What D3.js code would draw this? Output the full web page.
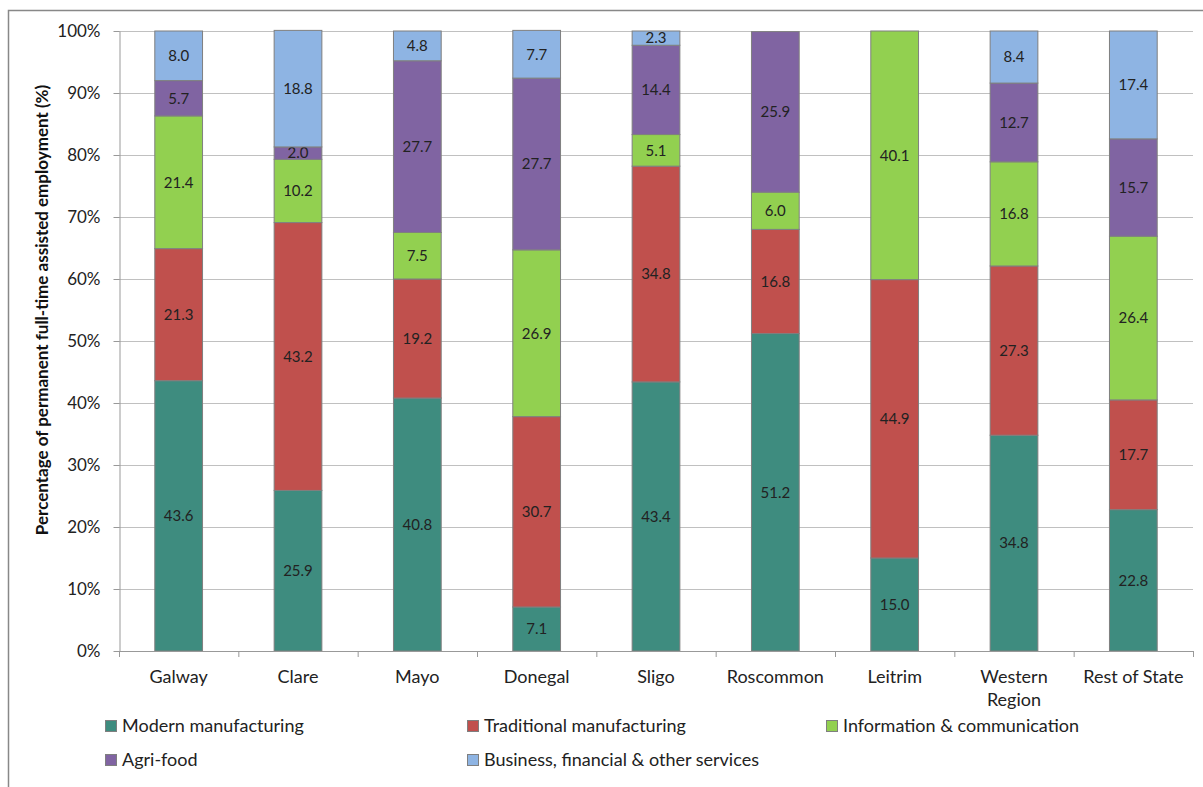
<!DOCTYPE html>
<html><head><meta charset="utf-8">
<script src="https://cdn.jsdelivr.net/npm/d3@7"></script>
<style>
html,body{margin:0;padding:0;background:#fff;}
svg{display:block;font-family:Lato,"Open Sans",sans-serif;}
</style></head>
<body>
<svg id="chart" width="1203" height="787"></svg>
<script>
const categories = ["Galway","Clare","Mayo","Donegal","Sligo","Roscommon","Leitrim","Western Region","Rest of State"];
const seriesNames = ["Modern manufacturing","Traditional manufacturing","Information & communication","Agri-food","Business, financial & other services"];
const modernManufacturing = [43.6,25.9,40.8,7.1,43.4,51.2,15.0,34.8,22.8];
const traditionalManufacturing = [21.3,43.2,19.2,30.7,34.8,16.8,44.9,27.3,17.7];
const infoComm = [21.4,10.2,7.5,26.9,5.1,6.0,40.1,16.8,26.4];
const agriFood = [5.7,2.0,27.7,27.7,14.4,25.9,0,12.7,15.7];
const businessServices = [8.0,18.8,4.8,7.7,2.3,0,0,8.4,17.4];
const yTicks = [0,10,20,30,40,50,60,70,80,90,100];
const colors = ["#3E8C7F","#C0504D","#92D050","#8064A2","#8EB4E3"];

const seriesValues = [modernManufacturing,traditionalManufacturing,infoComm,agriFood,businessServices];
const table = categories.map((c,i)=>{const o={cat:c}; seriesNames.forEach((s,j)=>o[s]=seriesValues[j][i]); return o;});
const stacked = d3.stack().keys(seriesNames)(table);

const svg = d3.select("#chart");
const m = {left:119, right:1193, top:31, bottom:651};

// outer frame
svg.append("path").attr("d","M8.5,787 L8.5,10.5 L1203,10.5").attr("fill","none").attr("stroke","#888").attr("stroke-width",1.5);

const x = d3.scaleBand().domain(categories).range([m.left,m.right]).paddingInner(0.6).paddingOuter(0.3);
const y = d3.scaleLinear().domain([0,100]).range([m.bottom,m.top]);

// gridlines
svg.append("g").selectAll("line").data(yTicks.filter(t=>t>0)).join("line")
  .attr("x1",m.left).attr("x2",m.right).attr("y1",d=>y(d)+0.5).attr("y2",d=>y(d)+0.5)
  .attr("stroke","#C0C0C0").attr("stroke-width",1);

// y axis
const yAxis = svg.append("g").attr("transform",`translate(${m.left+0.5},0)`)
  .call(d3.axisLeft(y).tickValues(yTicks).tickFormat(d=>d+"%").tickSize(6).tickSizeOuter(0));
yAxis.select(".domain").attr("stroke","#999");
yAxis.selectAll(".tick line").attr("stroke","#999");
yAxis.selectAll(".tick text").attr("font-size",17).attr("fill","#222").attr("x",-19).attr("font-family","Lato,sans-serif");

// bars
const groups = svg.append("g").selectAll("g").data(stacked).join("g").attr("fill",(d,i)=>colors[i]);
groups.selectAll("rect").data(d=>d.map(v=>({v,cat:v.data.cat}))).join("rect")
  .attr("x",d=>x(d.cat)).attr("width",x.bandwidth())
  .attr("y",d=>y(d.v[1])).attr("height",d=>y(d.v[0])-y(d.v[1]))
  .attr("stroke",d=>(d.v[1]-d.v[0])>0?"#7F7F7F":"none").attr("stroke-width",1);

// labels
groups.selectAll("text").data(d=>d.map(v=>({v,cat:v.data.cat}))).join("text")
  .filter(d=>(d.v[1]-d.v[0])>0)
  .attr("x",d=>x(d.cat)+x.bandwidth()/2).attr("y",d=>(y(d.v[0])+y(d.v[1]))/2)
  .attr("dy","0.35em").attr("text-anchor","middle").attr("font-size",15).attr("fill","#222")
  .text(d=>(d.v[1]-d.v[0]).toFixed(1));

// x axis
const xg = svg.append("g");
xg.append("line").attr("x1",m.left).attr("x2",m.right).attr("y1",m.bottom+0.5).attr("y2",m.bottom+0.5).attr("stroke","#999");
xg.selectAll("line.tk").data(d3.range(categories.length+1)).join("line").attr("class","tk")
  .attr("x1",i=>m.left+0.5+i*(m.right-m.left)/categories.length).attr("x2",i=>m.left+0.5+i*(m.right-m.left)/categories.length)
  .attr("y1",m.bottom).attr("y2",m.bottom+6).attr("stroke","#999");
xg.selectAll("text").data(categories).join("text")
  .attr("x",d=>x(d)+x.bandwidth()/2).attr("y",683).attr("text-anchor","middle").attr("font-size",18).attr("fill","#222")
  .each(function(d){
    const t=d3.select(this);
    if(d==="Western Region"){
      t.append("tspan").attr("x",x(d)+x.bandwidth()/2).text("Western");
      t.append("tspan").attr("x",x(d)+x.bandwidth()/2).attr("dy",23).text("Region");
    } else t.text(d);
  });

// y label
svg.append("text").attr("transform","translate(48,310) rotate(-90)").attr("text-anchor","middle")
  .attr("font-size",17).attr("font-weight","bold").attr("fill","#111")
  .text("Percentage of permanent full-time assisted employment (%)");

// legend
const legPos = [[105,726],[467,726],[826,726],[105,760],[467,760]];
const lg = svg.append("g").selectAll("g").data(seriesNames).join("g")
  .attr("transform",(d,i)=>`translate(${legPos[i][0]},${legPos[i][1]})`);
lg.append("rect").attr("x",0.5).attr("y",-5.5).attr("width",11).attr("height",11)
  .attr("fill",(d,i)=>colors[i]).attr("stroke","#7F7F7F");
lg.append("text").attr("x",17).attr("dy","0.35em").attr("font-size",18).attr("fill","#222").text(d=>d);
</script>
</body></html>
